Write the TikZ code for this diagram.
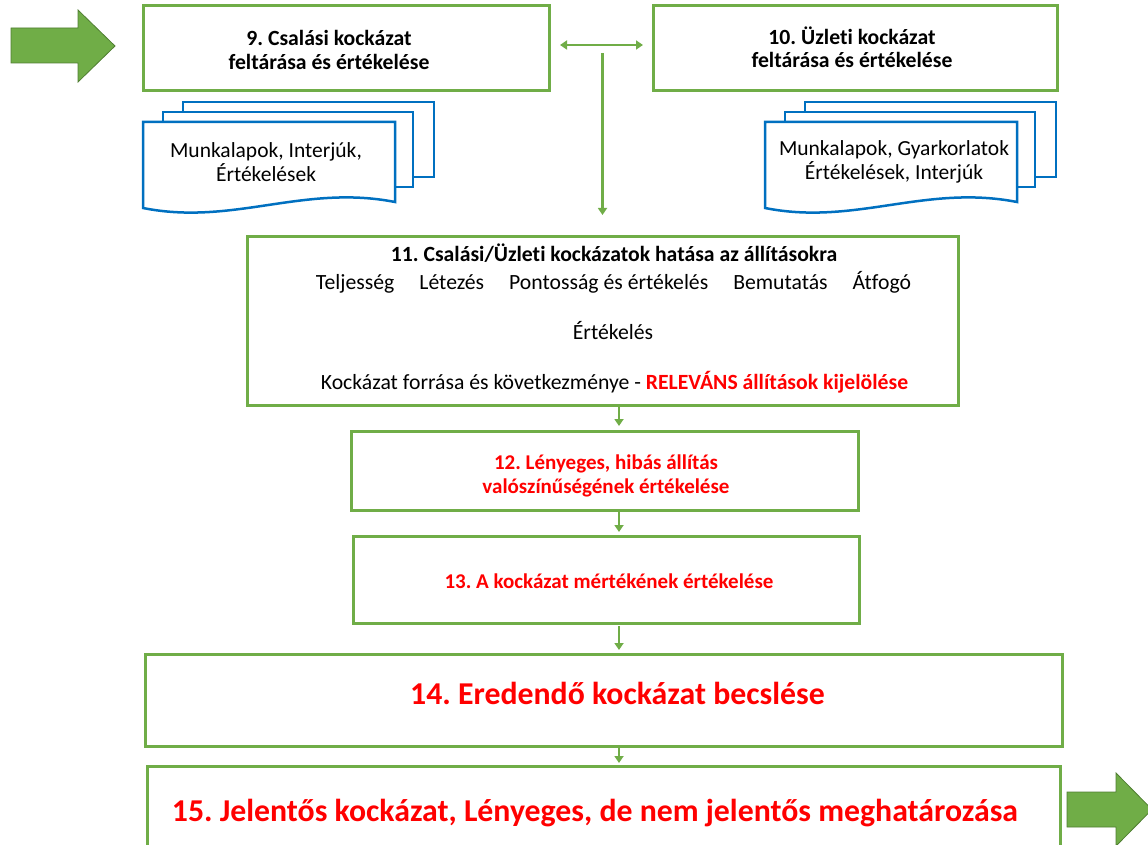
\documentclass[tikz,border=0pt]{standalone}
\usepackage{fontspec}
\setmainfont{Carlito}[Ligatures=NoCommon]
\frenchspacing
\usetikzlibrary{arrows.meta}
\definecolor{boxgreen}{HTML}{70AD47}
\definecolor{arrowedge}{HTML}{507E32}
\definecolor{docblue}{HTML}{0070C0}
\definecolor{alertred}{HTML}{FF0000}
\newcommand\sheetstack[2]{%
  \begin{scope}[shift={(#1,#2)}]
    \filldraw[page] (40,0) rectangle (291,75);
    \filldraw[page] (20,10) rectangle (270,85);
    \filldraw[page] (0,20) -- (252,20) -- (252,100)
      .. controls (160,82) and (90,124) .. (0,106) -- cycle;
  \end{scope}}
\begin{document}
\begin{tikzpicture}[x=1pt,y=-1pt,
  stepbox/.style={draw=boxgreen, line width=3pt, fill=white, inner sep=0pt, outer sep=0pt},
  flow/.style={draw=boxgreen, line width=2.5pt, -{Triangle[width=9pt,length=7pt]}},
  flowboth/.style={draw=boxgreen, line width=2.5pt,
    {Triangle[width=9pt,length=7pt]}-{Triangle[width=9pt,length=7pt]}},
  page/.style={draw=docblue, line width=2.5pt, fill=white, line join=miter},
  bigarrow/.style={fill=boxgreen, draw=arrowedge, line width=0.8pt, line join=miter},
  lbl/.style={inner sep=0pt, align=center},
  stepfont/.style={font=\bfseries\fontsize{21.7}{23.5}\selectfont},
  docfont/.style={font=\fontsize{21.5}{24}\selectfont},
  midfont/.style={font=\fontsize{21.7}{24}\selectfont},
  midbold/.style={font=\bfseries\fontsize{21.7}{24}\selectfont},
  alertfont/.style={font=\bfseries\fontsize{21}{24.5}\selectfont, text=alertred},
  bigalert/.style={font=\bfseries\fontsize{31.8}{34}\selectfont, text=alertred},
]
\useasboundingbox (0,0) rectangle (1148,845);

% entry and exit block arrows
\draw[bigarrow] (11,28) -- (78,28) -- (78,10) -- (115,46) -- (78,82) -- (78,63) -- (11,63) -- cycle;
\draw[bigarrow] (1067,792) -- (1116,792) -- (1116,773) -- (1152,809.5) -- (1116,846) -- (1116,827) -- (1067,827) -- cycle;

% top row
\node[stepbox, minimum width=406pt, minimum height=85pt] (b9) at (346,48.5) {};
\node[lbl, stepfont] (t9) at (329,50) {9. Csalási kockázat\\feltárása és értékelése};
\node[stepbox, minimum width=404pt, minimum height=85pt] (b10) at (855,48.5) {};
\node[lbl, stepfont] (t10) at (852,47) {10. Üzleti kockázat\\feltárása és értékelése};

% working paper stacks
\sheetstack{143}{102}
\node[lbl, docfont] (docL) at (266,162) {Munkalapok, Interjúk,\\Értékelések};
\sheetstack{765}{102}
\node[lbl, docfont] (docR) at (894,162) {Munkalapok, Gyarkorlatok\\Értékelések, Interjúk};

% assertions box
\node[stepbox, minimum width=711pt, minimum height=169pt] (b11) at (602.5,320.5) {};
\node[lbl, midbold, anchor=base] (t11a) at (614,261)
  {11. Csalási/Üzleti kockázatok hatása az állításokra};
\node[lbl, midfont, anchor=base] (t11b) at (613.5,289)
  {Teljesség\hspace{25pt}Létezés\hspace{25pt}Pontosság és értékelés\hspace{25pt}Bemutatás\hspace{25pt}Átfogó};
\node[lbl, midfont, anchor=base] (t11c) at (613,339) {Értékelés};
\node[lbl, midfont, anchor=base] (t11d) at (614.5,389)
  {Kockázat forrása és következménye - {\bfseries\color{alertred}RELEVÁNS állítások kijelölése}};

% evaluation steps
\node[stepbox, minimum width=507pt, minimum height=79pt] (b12) at (604.5,470.5) {};
\node[lbl, alertfont] (t12) at (606,476) {12. Lényeges, hibás állítás\\valószínűségének értékelése};
\node[stepbox, minimum width=506pt, minimum height=87pt] (b13) at (606,579.5) {};
\node[lbl, alertfont] (t13) at (609,581) {13. A kockázat mértékének értékelése};
\node[stepbox, minimum width=917pt, minimum height=92pt] (b14) at (603.5,700) {};
\node[lbl, bigalert] (t14) at (617.5,693) {14. Eredendő kockázat becslése};
\node[stepbox, minimum width=913pt, minimum height=124pt] (b15) at (603.5,828) {};
\node[lbl, bigalert] (t15) at (595,813) {15. Jelentős kockázat, Lényeges, de nem jelentős meghatározása};

% connectors
\draw[flowboth] ([xshift=11pt,yshift=3.5pt]b9.east) -- ([xshift=-10pt,yshift=3.5pt]b10.west);
\coordinate (fork) at (602.5,53);
\draw[flow] (fork) -- ([yshift=21pt]b11.north);
\draw[flow] ([xshift=16.5pt,yshift=-2pt]b11.south) -- ([xshift=14.5pt,yshift=5pt]b12.north);
\draw[flow] ([xshift=14.5pt,yshift=-2pt]b12.south) -- ([xshift=13pt,yshift=4pt]b13.north);
\draw[flow] ([xshift=13pt,yshift=-3pt]b13.south) -- ([xshift=15.5pt,yshift=4pt]b14.north);
\draw[flow] ([xshift=15.5pt,yshift=-2pt]b14.south) -- ([xshift=15.5pt,yshift=3pt]b15.north);
\end{tikzpicture}
\end{document}
